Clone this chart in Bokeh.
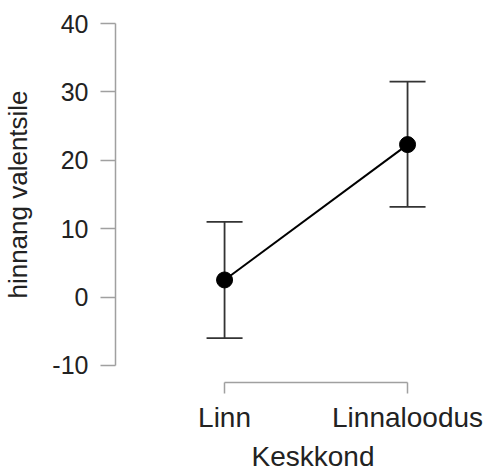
from bokeh.plotting import figure
from bokeh.models import Range1d, FixedTicker, Whisker, TeeHead, ColumnDataSource, Title
from bokeh.embed import file_html
from bokeh.resources import INLINE

categories = ["Linn", "Linnaloodus"]
means = [2.5, 22.3]
lower = [-6.0, 13.2]
upper = [11.0, 31.5]
y_ticks = [-10, 0, 10, 20, 30, 40]
x_title = "Keskkond"
y_title = "hinnang valentsile"

xs = list(range(len(categories)))
src = ColumnDataSource(dict(x=xs, mean=means, lower=lower, upper=upper))

FONT = "Liberation Sans"
Y0, Y1 = -12.5, 42.5

p = figure(width=489, height=474, output_backend="svg", toolbar_location=None,
           x_range=Range1d(-0.596, 1.426), y_range=Range1d(Y0, Y1),
           min_border_left=115, min_border_right=4, min_border_top=6, min_border_bottom=92)
p.outline_line_color = None
p.xgrid.visible = False
p.ygrid.visible = False
p.background_fill_color = "white"
p.border_fill_color = "white"

wh = Whisker(source=src, base="x", lower="lower", upper="upper",
             line_color="#333333", line_width=1.8,
             upper_head=TeeHead(size=36, line_color="#333333", line_width=1.8),
             lower_head=TeeHead(size=36, line_color="#333333", line_width=1.8))
p.add_layout(wh)

p.line("x", "mean", source=src, line_color="black", line_width=2)
p.scatter("x", "mean", source=src, size=16, color="black")

ax = p.yaxis[0]
ax.ticker = FixedTicker(ticks=y_ticks)
ax.bounds = (min(y_ticks), max(y_ticks))
ax.major_label_overrides = {t: str(t) for t in y_ticks}
ax.axis_line_color = "#a0a0a0"
ax.axis_line_width = 1.5
ax.major_tick_line_color = "#a0a0a0"
ax.major_tick_line_width = 1.5
ax.major_tick_out = 15
ax.major_tick_in = 0
ax.minor_tick_line_color = None
ax.major_label_text_font = FONT
ax.major_label_text_font_size = "25px"
ax.major_label_text_color = "#222222"
ax.major_label_standoff = 12
ax.axis_label = y_title
ax.axis_label_text_font = FONT
ax.axis_label_text_font_size = "26px"
ax.axis_label_text_font_style = "normal"
ax.axis_label_text_color = "#222222"
ax.axis_label_standoff = 16

bx = p.xaxis[0]
bx.ticker = FixedTicker(ticks=xs)
bx.bounds = (min(xs), max(xs))
bx.major_label_overrides = {i: c for i, c in zip(xs, categories)}
bx.axis_line_color = "#a0a0a0"
bx.axis_line_width = 1.5
bx.major_tick_line_color = "#a0a0a0"
bx.major_tick_line_width = 1.5
bx.major_tick_out = 11
bx.major_tick_in = 0
bx.minor_tick_line_color = None
bx.major_label_text_font = FONT
bx.major_label_text_font_size = "28px"
bx.major_label_text_color = "#222222"
bx.major_label_standoff = 8

p.add_layout(Title(text=x_title, align="left", offset=136, standoff=6,
                   text_line_height=0.7,
                   text_font=FONT, text_font_size="28px", text_font_style="normal",
                   text_color="#222222"), "below")

open("out.html", "w").write(file_html(p, INLINE))
